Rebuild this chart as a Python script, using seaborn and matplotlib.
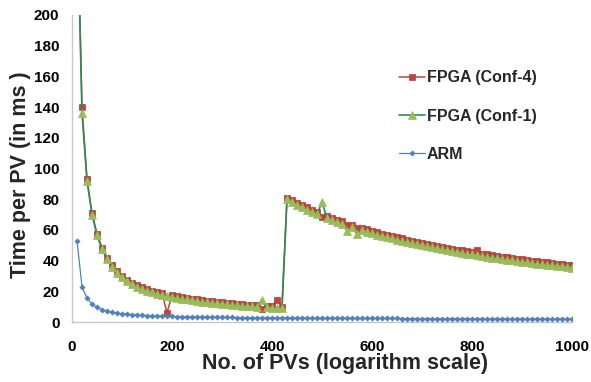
import matplotlib
matplotlib.use("Agg")
import matplotlib.pyplot as plt
import seaborn as sns
import numpy as np

# ---- data ----
num_pvs = list(range(10, 1001, 10))

conf4_ms = [
    280, 140, 93, 71, 57.5, 48.5, 42, 37, 33, 30,
    27.5, 25.5, 24, 22.5, 21.5, 20.5, 19.5, 18.7, 6, 17.5,
    16.8, 16.2, 15.7, 15.2, 14.7, 14.3, 13.9, 13.5, 13.2, 12.8,
    12.5, 12.2, 11.9, 11.6, 11.4, 11.1, 10.9, 8.5, 10.5, 10.3,
    14.5, 10,
    81, 79.3, 77.7, 76.0, 74.7, 73.2, 71.7, 68.5, 69.1, 67.9,
    66.7, 65.6, 63, 63.4, 61, 61.4, 60.4, 59.4, 58.5, 57.6,
    56.8, 56.0, 55.2, 54.4, 53.6, 52.9, 52.2, 51.5, 50.8, 50.2,
    49.5, 48.9, 48.3, 47.7, 47.1, 46.6, 46.0, 45.5, 47, 44.5,
    44.0, 43.5, 43.1, 42.6, 42.2, 41.7, 41.3, 40.8, 40.4, 40.0,
    39.6, 39.3, 38.9, 38.5, 38.1, 37.8, 37.3, 36.9,
]

conf1_ms = [
    275, 136, 92, 70, 56.5, 47.5, 41, 36, 32, 29,
    26.5, 24.5, 23, 21.5, 20.5, 19.5, 18.5, 17.7, 17, 16.5,
    15.8, 15.2, 14.7, 14.2, 13.7, 13.3, 12.9, 12.5, 12.2, 11.8,
    11.5, 11.2, 10.9, 10.6, 10.4, 10.1, 9.9, 14.5, 9.5, 9.3,
    9.1, 9,
    80, 78, 76.2, 74.6, 73.2, 71.7, 70.2, 78, 67.6, 66.4,
    65.2, 64.1, 59.5, 61.9, 57.5, 59.9, 58.9, 57.9, 57.0, 56.1,
    55.3, 54.5, 53.7, 52.9, 52.1, 51.4, 50.7, 50.0, 49.3, 48.7,
    48.0, 47.4, 46.8, 46.2, 45.6, 45.1, 44.5, 44.0, 43.5, 43.0,
    42.5, 42.0, 41.6, 41.1, 40.7, 40.2, 39.8, 39.3, 38.9, 38.5,
    38.1, 37.8, 37.4, 37.0, 36.6, 36.3, 35.8, 35.4,
]

arm_ms = [
    53, 23, 15.5, 11.5, 9.5, 8, 7, 6.3, 5.8, 5.4,
    5.1, 4.8, 4.6, 4.4, 4.2, 4.0, 3.9, 3.8, 3.7, 3.6,
    3.5, 3.45, 3.4, 3.35, 3.3, 3.25, 3.2, 3.15, 3.1, 3.05,
    3.0, 2.95, 2.9, 2.9, 2.85, 2.8, 2.8, 2.75, 2.75, 2.7,
    2.7, 2.7, 2.65, 2.65, 2.6, 2.6, 2.6, 2.55, 2.55, 2.5,
    2.5, 2.5, 2.45, 2.45, 2.45, 2.4, 2.4, 2.4, 2.35, 2.35,
    2.35, 2.3, 2.3, 2.3, 2.3, 2.25, 2.25, 2.25, 2.2, 2.2,
    2.2, 2.2, 2.15, 2.15, 2.15, 2.15, 2.1, 2.1, 2.1, 2.1,
    2.1, 2.05, 2.05, 2.05, 2.05, 2.0, 2.0, 2.0, 2.0, 2.0,
    2.0, 1.95, 1.95, 1.95, 1.95, 1.9, 1.9, 1.9, 1.9, 1.9,
]

series_labels = ["FPGA (Conf-4)", "FPGA (Conf-1)", "ARM"]
x_ticks = [0, 200, 400, 600, 800, 1000]
y_ticks = [0, 20, 40, 60, 80, 100, 120, 140, 160, 180, 200]

assert len(conf4_ms) == len(num_pvs) == len(conf1_ms) == len(arm_ms)

# ---- style ----
sns.set_style("white")
plt.rcParams["font.family"] = ["Liberation Sans", "DejaVu Sans"]
plt.rcParams["font.weight"] = "bold"

W, H = 591, 382
fig = plt.figure(figsize=(W / 100, H / 100), dpi=100)
ax = fig.add_axes([72 / W, (H - 322) / H, 500 / W, 307 / H])

RED = "#C8403A"
GREEN_LINE = "#2E8B57"
GREEN_MK = "#9BBB59"
BLUE = "#4F81BD"

sns.lineplot(x=num_pvs, y=conf4_ms, ax=ax, color=RED, linewidth=1.1,
             marker="s", markersize=4.8, markerfacecolor=RED,
             markeredgecolor="#a8403d", markeredgewidth=0.5,
             label=series_labels[0], estimator=None, sort=False, zorder=2)
sns.lineplot(x=num_pvs, y=conf1_ms, ax=ax, color=GREEN_LINE, linewidth=1.2,
             marker="^", markersize=5.4, markerfacecolor=GREEN_MK,
             markeredgecolor=GREEN_MK, markeredgewidth=0.5,
             label=series_labels[1], estimator=None, sort=False, zorder=3)
sns.lineplot(x=num_pvs, y=arm_ms, ax=ax, color=BLUE, linewidth=0.9,
             marker="D", markersize=2.8, markerfacecolor=BLUE,
             markeredgecolor=BLUE, markeredgewidth=0.3,
             label=series_labels[2], estimator=None, sort=False, zorder=4)

ax.set_xlim(0, 1000)
ax.set_ylim(0, 200)
ax.set_xticks(x_ticks)
ax.set_yticks(y_ticks)
ax.tick_params(axis="both", length=0, labelsize=11, colors="black")
ax.tick_params(axis="x", pad=13)
ax.tick_params(axis="y", pad=9)
for lbl in ax.get_xticklabels() + ax.get_yticklabels():
    lbl.set_fontweight("bold")

for side in ["top", "right"]:
    ax.spines[side].set_visible(False)
for side in ["left", "bottom"]:
    ax.spines[side].set_color("#c8c8c8")
    ax.spines[side].set_linewidth(1.0)
ax.grid(False)

ax.set_xlabel("No. of PVs (logarithm scale)", fontsize=15.5, fontweight="bold")
ax.set_ylabel("Time per PV (in ms )", fontsize=15.5, fontweight="bold")
ax.xaxis.set_label_coords(0.547, -0.100)
ax.yaxis.set_label_coords(-0.082, 0.479)

handles, labels = ax.get_legend_handles_labels()
ax.get_legend().remove()
fig.legend(handles, labels, loc="center left",
           bbox_to_anchor=(399 / W, 1 - 116 / H), borderaxespad=0,
           frameon=False, borderpad=0, handlelength=1.6, handletextpad=0.15,
           labelspacing=1.45, prop={"size": 11.5, "weight": "bold"})

fig.savefig("out.png", dpi=100)
